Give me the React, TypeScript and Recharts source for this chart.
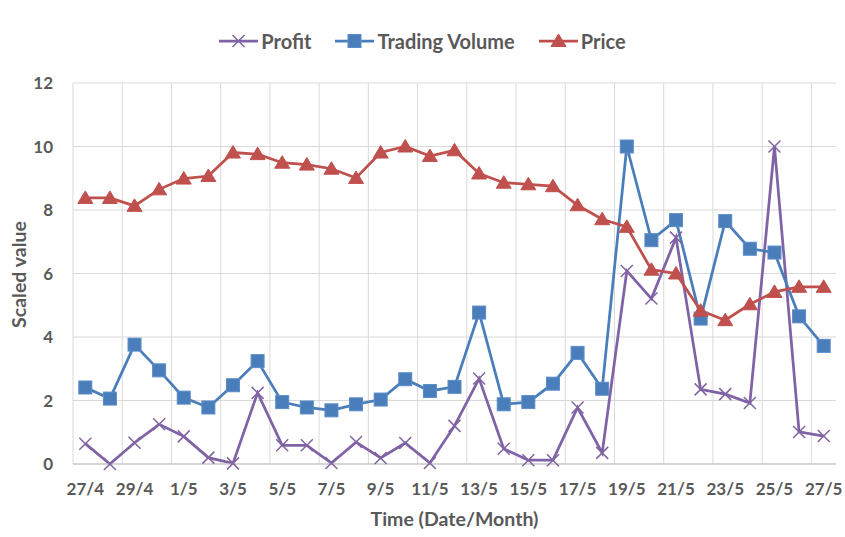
import React from 'react';
import { LineChart, Line, XAxis, YAxis, CartesianGrid } from 'recharts';

const dates = ['27/4','28/4','29/4','30/4','1/5','2/5','3/5','4/5','5/5','6/5','7/5','8/5','9/5','10/5','11/5','12/5','13/5','14/5','15/5','16/5','17/5','18/5','19/5','20/5','21/5','22/5','23/5','24/5','25/5','26/5','27/5'];
const profit = [0.64,0,0.67,1.25,0.87,0.2,0.02,2.24,0.59,0.59,0.03,0.69,0.19,0.66,0.03,1.2,2.69,0.48,0.12,0.12,1.78,0.35,6.08,5.21,7.13,2.35,2.2,1.92,10,1.01,0.88];
const volume = [2.41,2.06,3.76,2.95,2.09,1.78,2.48,3.24,1.95,1.78,1.69,1.88,2.03,2.67,2.3,2.43,4.77,1.88,1.95,2.53,3.5,2.37,10,7.05,7.68,4.58,7.65,6.78,6.66,4.65,3.72];
const price = [8.38,8.38,8.13,8.65,8.99,9.07,9.81,9.76,9.49,9.43,9.3,9.01,9.81,10,9.7,9.88,9.15,8.86,8.81,8.75,8.15,7.71,7.47,6.12,6.0,4.83,4.53,5.03,5.42,5.58,5.58];
const yTicks = [0,2,4,6,8,10,12];

const series = [
  { key: 'profit', name: 'Profit', color: '#7F63A6' },
  { key: 'volume', name: 'Trading Volume', color: '#4A7EBB' },
  { key: 'price', name: 'Price', color: '#C0504D' },
];

const data = dates.map((d, i) => ({ date: d, profit: profit[i], volume: volume[i], price: price[i] }));

const FONT = 'Lato, "Open Sans", sans-serif';
const TXT = '#595959';

const CrossDot = (props: any) => {
  const { cx, cy } = props;
  if (cx == null || cy == null) return null;
  const s = 6;
  return (
    <path d={`M${cx - s},${cy - s}L${cx + s},${cy + s}M${cx - s},${cy + s}L${cx + s},${cy - s}`} stroke="#8064A2" strokeWidth={1.5} fill="none" />
  );
};
const SquareDot = (props: any) => {
  const { cx, cy } = props;
  if (cx == null || cy == null) return null;
  const s = 6.5;
  return <rect x={cx - s} y={cy - s} width={2 * s} height={2 * s} fill="#4A7EBB" stroke="#5B8CC8" strokeWidth={1} />;
};
const TriDot = (props: any) => {
  const { cx, cy } = props;
  if (cx == null || cy == null) return null;
  return <path d={`M${cx},${cy - 7}L${cx + 7.5},${cy + 5.5}L${cx - 7.5},${cy + 5.5}Z`} fill="#C0504D" stroke="#C0504D" strokeWidth={1} />;
};
const dots: Record<string, any> = { profit: CrossDot, volume: SquareDot, price: TriDot };

const LegendItem = ({ s, last }: { s: typeof series[number]; last: boolean }) => {
  const Dot = dots[s.key];
  return (
    <div style={{ display: 'flex', alignItems: 'center', marginRight: last ? 0 : 24 }}>
      <svg width={39} height={16} style={{ marginRight: 3 }}>
        <line x1={0} y1={8} x2={39} y2={8} stroke={s.color} strokeWidth={2.75} />
        <Dot cx={19.5} cy={8} />
      </svg>
      <span style={{ fontFamily: FONT, fontWeight: 700, fontSize: 20, color: TXT, lineHeight: '24px' }}>{s.name}</span>
    </div>
  );
};

export default function App() {
  return (
    <div style={{ position: 'absolute', left: 0, top: 0, width: 845, height: 537, background: '#fff' }}>
      <div style={{ position: 'absolute', left: 0, top: 29, width: 845, display: 'flex', justifyContent: 'center' }}>
        {series.map((s, i) => <LegendItem key={s.key} s={s} last={i === series.length - 1} />)}
      </div>
      <LineChart width={845} height={537} data={data} margin={{ top: 83, right: 9, bottom: 13, left: 0 }}>
        <CartesianGrid
          stroke="#D9D9D9"
          strokeWidth={1}
          verticalCoordinatesGenerator={({ offset }: any) => {
            const step = (offset.width / dates.length) * 2;
            const out: number[] = [];
            for (let x = offset.left; x < offset.left + offset.width - 1; x += step) out.push(x);
            return out;
          }}
        />
        <XAxis
          dataKey="date"
          interval={1}
          tickLine={false}
          axisLine={{ stroke: '#BFBFBF' }}
          tickSize={0}
          tickMargin={19}
          height={60}
          padding={{ left: 12.3, right: 12.3 }}
          tick={{ fill: TXT, fontSize: 17, fontWeight: 700, fontFamily: FONT }}
          label={{
            content: ({ viewBox }: any) => (
              <text x={viewBox.x + viewBox.width / 2} y={518} textAnchor="middle" dominantBaseline="central" fill={TXT} fontSize={19.5} fontWeight={700} fontFamily={FONT}>
                Time (Date/Month)
              </text>
            ),
          }}
        />
        <YAxis
          domain={[0, 12]}
          ticks={yTicks}
          width={73}
          axisLine={false}
          tickLine={false}
          tickSize={0}
          tickMargin={20}
          tick={{ fill: TXT, fontSize: 17, fontWeight: 700, fontFamily: FONT }}
          label={{
            content: ({ viewBox }: any) => {
              const x = 18;
              const y = viewBox.y + viewBox.height / 2 + 1;
              return (
                <text x={x} y={y} transform={`rotate(-90 ${x} ${y})`} textAnchor="middle" dominantBaseline="central" fill={TXT} fontSize={19.5} fontWeight={700} fontFamily={FONT}>
                  Scaled value
                </text>
              );
            },
          }}
        />
        {series.map((s) => (
          <Line
            key={s.key}
            dataKey={s.key}
            name={s.name}
            stroke={s.color}
            strokeWidth={2.75}
            dot={dots[s.key]}
            activeDot={false}
            isAnimationActive={false}
          />
        ))}
      </LineChart>
    </div>
  );
}
